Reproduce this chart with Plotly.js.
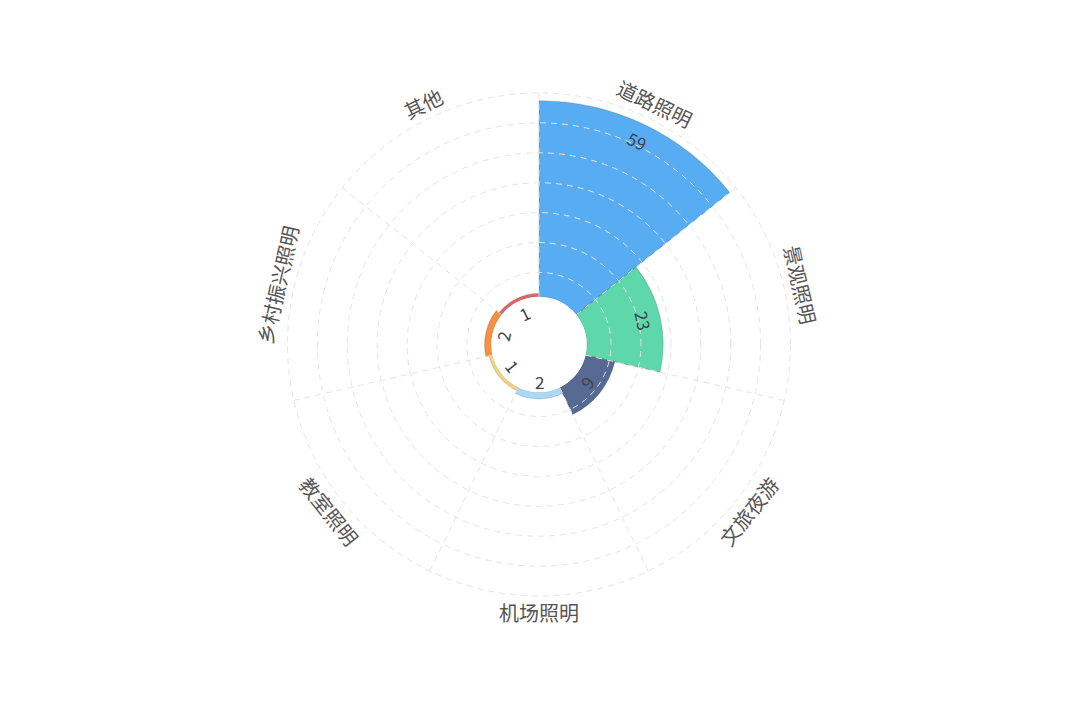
<!DOCTYPE html>
<html>
<head>
<meta charset="utf-8">
<script src="https://cdn.plot.ly/plotly-3.0.1.min.js"></script>
<style>html,body{margin:0;padding:0;background:#fff;}#chart{width:1080px;height:705px;}</style>
</head>
<body>
<div id="chart"></div>
<script>
// ---- data ----
const categories = ['道路照明', '景观照明', '文旅夜游', '机场照明', '教室照明', '乡村振兴照明', '其他'];
const values = [59, 23, 9, 2, 1, 2, 1];
const barColors = ['#58acf2', '#5ed7aa', '#576a93', '#a9d9f4', '#f4d57c', '#f98f43', '#e06767'];

// ---- geometry / style ----
const W = 1080, H = 705;
const CX = 539, CY = 344.5, OUTER = 251.5;
const HOLE = 0.19;
const RMAX = 61.3;
const domX = [(CX - OUTER) / W, (CX + OUTER) / W];
const domY = [1 - (CY + OUTER) / H, 1 - (CY - OUTER) / H];
const n = categories.length;
const step = 360 / n;
const holePx = OUTER * HOLE;
const scale = (OUTER - holePx) / RMAX;
const gridColor = '#e4e4e4';
const gridDash = '6px,5px';
const font = '"Noto Sans CJK SC", "Noto Sans", sans-serif';

const traces = [
  {
    type: 'barpolar',
    subplot: 'polar',
    r: values,
    theta: categories,
    marker: { color: barColors, line: { color: 'rgba(0,0,0,0.13)', width: 1.2 } },
    hoverinfo: 'theta+r',
    showlegend: false
  },
  {
    type: 'scatterpolar',
    subplot: 'polar2',
    r: [0], theta: [0],
    mode: 'markers',
    marker: { opacity: 0 },
    hoverinfo: 'skip',
    showlegend: false
  }
];

function rotFor(deg) {
  if (deg <= 90) return deg;
  if (deg < 270) return deg - 180;
  return deg - 360;
}
function toPaper(rpx, deg) {
  const a = deg * Math.PI / 180;
  return { x: (CX + rpx * Math.sin(a)) / W, y: 1 - (CY - rpx * Math.cos(a)) / H };
}

const annotations = [];
categories.forEach((c, i) => {
  const deg = i * step + step / 2;
  const p = toPaper(268, deg);
  annotations.push({
    xref: 'paper', yref: 'paper', x: p.x, y: p.y, text: c, showarrow: false,
    textangle: rotFor(deg), xanchor: 'center', yanchor: 'middle',
    font: { family: font, size: 20, color: '#555555' }
  });
  const pv = toPaper(holePx + values[i] * scale - 17, deg);
  annotations.push({
    xref: 'paper', yref: 'paper', x: pv.x, y: pv.y, text: String(values[i]), showarrow: false,
    textangle: rotFor(deg), xanchor: 'center', yanchor: 'middle',
    font: { family: font, size: 17, color: '#3d4450' }
  });
});

const layout = {
  width: W, height: H,
  margin: { l: 0, r: 0, t: 0, b: 0 },
  paper_bgcolor: '#ffffff',
  showlegend: false,
  annotations: annotations,
  shapes: [{
    type: 'circle', xref: 'paper', yref: 'paper', layer: 'above',
    x0: (CX - OUTER) / W, x1: (CX + OUTER) / W,
    y0: 1 - (CY + OUTER) / H, y1: 1 - (CY - OUTER) / H,
    line: { color: gridColor, width: 1, dash: gridDash }
  }],
  polar: {
    domain: { x: domX, y: domY },
    hole: HOLE,
    bargap: 0,
    bgcolor: 'rgba(0,0,0,0)',
    angularaxis: {
      type: 'category', rotation: 90 - step / 2, direction: 'clockwise',
      showgrid: false, showticklabels: false, ticks: '', showline: false
    },
    radialaxis: {
      range: [0, RMAX], showgrid: false, showticklabels: false, ticks: '', showline: false
    }
  },
  polar2: {
    domain: { x: domX, y: domY },
    hole: HOLE,
    bgcolor: 'rgba(0,0,0,0)',
    angularaxis: {
      type: 'linear', thetaunit: 'degrees', rotation: 90, direction: 'clockwise',
      tickmode: 'linear', tick0: 0, dtick: step,
      showticklabels: false, ticks: '', showline: false,
      showgrid: true, gridcolor: gridColor, gridwidth: 1, griddash: gridDash
    },
    radialaxis: {
      range: [0, RMAX], tickmode: 'linear', tick0: 16.3, dtick: 9,
      showticklabels: false, ticks: '', showline: false,
      showgrid: true, gridcolor: gridColor, gridwidth: 1, griddash: gridDash
    }
  }
};

Plotly.newPlot('chart', traces, layout, { displayModeBar: false });
</script>
</body>
</html>
